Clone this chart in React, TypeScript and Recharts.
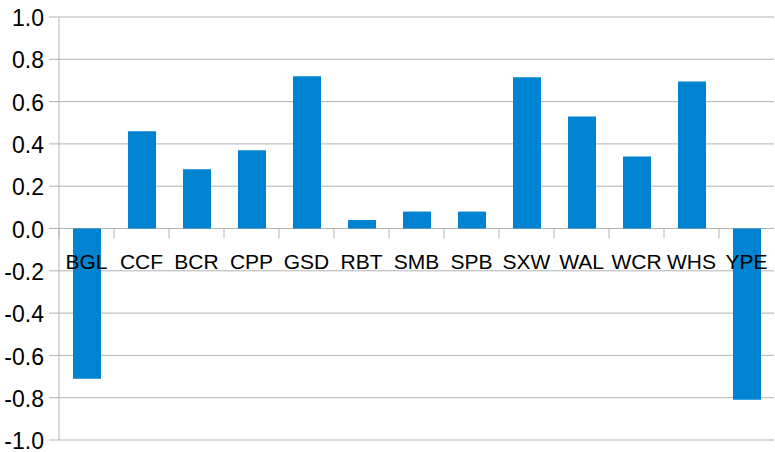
import { BarChart, Bar, XAxis, YAxis, CartesianGrid } from 'recharts';

// Stations and their values
const CATEGORIES = ['BGL', 'CCF', 'BCR', 'CPP', 'GSD', 'RBT', 'SMB', 'SPB', 'SXW', 'WAL', 'WCR', 'WHS', 'YPE'];
const VALUES = [-0.71, 0.46, 0.28, 0.37, 0.72, 0.04, 0.08, 0.08, 0.715, 0.53, 0.34, 0.695, -0.81];
const Y_TICKS = [-1, -0.8, -0.6, -0.4, -0.2, 0, 0.2, 0.4, 0.6, 0.8, 1];

const Y_MIN = -1;
const Y_MAX = 1;

const WIDTH = 775;
const HEIGHT = 452;
const X_AXIS_H = 1;
const MARGIN = { top: 17, right: 1, bottom: 11, left: 0 };
const Y_AXIS_W = 59;
const PLOT_TOP = MARGIN.top;
const PLOT_H = HEIGHT - MARGIN.top - MARGIN.bottom - X_AXIS_H;
const PLOT_W = WIDTH - MARGIN.left - MARGIN.right - Y_AXIS_W;

const BLUE = '#0083d0';
const GRID = '#b3b3b3';
const FONT = '"Liberation Sans", Arial, sans-serif';

const data = CATEGORIES.map((name, i) => ({ name, value: VALUES[i] }));

// category labels sit just under the zero line, with separators between the bands
function CategoryTick(props: any) {
  const { x, payload } = props;
  const zeroY = PLOT_TOP + (PLOT_H * Y_MAX) / (Y_MAX - Y_MIN);
  const band = PLOT_W / CATEGORIES.length;
  return (
    <g>
      <line x1={x - band / 2} x2={x - band / 2} y1={zeroY} y2={zeroY + 10} stroke={GRID} />
      <text x={x} y={zeroY + 40} textAnchor="middle" fontSize={21} fill="#000" fontFamily={FONT}>
        {payload.value}
      </text>
    </g>
  );
}

export default function App() {
  return (
    <div style={{ position: 'absolute', top: 0, left: 0, width: WIDTH, height: HEIGHT, background: '#fff' }}>
      <BarChart width={WIDTH} height={HEIGHT} data={data} margin={MARGIN} style={{ fontFamily: FONT }}>
        <CartesianGrid vertical={false} stroke={GRID} />
        <YAxis
          type="number"
          domain={[Y_MIN, Y_MAX]}
          ticks={Y_TICKS}
          interval={0}
          width={Y_AXIS_W}
          tickFormatter={(v: number) => v.toFixed(1)}
          tick={{ fontSize: 23, fill: '#000', dy: 1 }}
          tickSize={10}
          tickMargin={5}
          axisLine={{ stroke: GRID }}
          tickLine={{ stroke: GRID }}
        />
        <Bar dataKey="value" fill={BLUE} barSize={28} isAnimationActive={false} />
        <XAxis
          dataKey="name"
          height={X_AXIS_H}
          interval={0}
          axisLine={false}
          tickLine={false}
          tick={(p: any) => <CategoryTick {...p} />}
        />
      </BarChart>
    </div>
  );
}
